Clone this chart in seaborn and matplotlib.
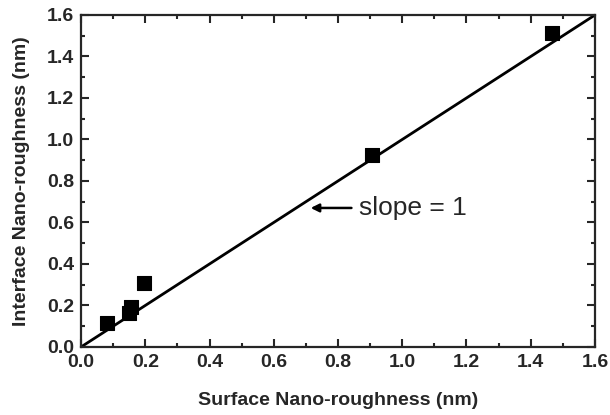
import numpy as np
import pandas as pd
import matplotlib
matplotlib.use("Agg")
import matplotlib.pyplot as plt
import seaborn as sns
from matplotlib.ticker import MultipleLocator

# measured roughness values (nm)
surface = [0.08, 0.15, 0.155, 0.195, 0.905, 1.465]
interface = [0.115, 0.165, 0.195, 0.31, 0.925, 1.515]

# slope = 1 reference line
ref_x = [0.0, 1.6]
ref_y = [0.0, 1.6]

df = pd.DataFrame({"surface": surface, "interface": interface})
ref = pd.DataFrame({"x": ref_x, "y": ref_y})

sns.set_style("ticks")
plt.rcParams["font.family"] = ["Liberation Sans", "DejaVu Sans"]

fig = plt.figure(figsize=(6.1, 4.15), dpi=100)
ax = fig.add_axes([0.1328, 0.1639, 0.8426, 0.80])

sns.lineplot(data=ref, x="x", y="y", color="black", linewidth=2, ax=ax)
sns.scatterplot(data=df, x="surface", y="interface", marker="s", s=95,
                color="black", edgecolor="black", ax=ax, zorder=3)

ax.annotate("slope = 1", xy=(0.715, 0.67), xytext=(0.865, 0.67),
            fontsize=19, va="center", ha="left",
            arrowprops=dict(arrowstyle="-|>", color="black", lw=1.8,
                            mutation_scale=12, shrinkA=3, shrinkB=0))

ax.set_xlim(0, 1.6)
ax.set_ylim(0, 1.6)
ax.xaxis.set_major_locator(MultipleLocator(0.2))
ax.yaxis.set_major_locator(MultipleLocator(0.2))
ax.xaxis.set_minor_locator(MultipleLocator(0.1))
ax.yaxis.set_minor_locator(MultipleLocator(0.1))
ax.xaxis.set_major_formatter(matplotlib.ticker.FormatStrFormatter("%.1f"))
ax.yaxis.set_major_formatter(matplotlib.ticker.FormatStrFormatter("%.1f"))

ax.tick_params(which="both", direction="in", top=True, right=True, width=1.5)
ax.tick_params(which="major", length=6, labelsize=14, pad=5)
ax.tick_params(which="minor", length=3)
for lbl in ax.get_xticklabels() + ax.get_yticklabels():
    lbl.set_fontweight("bold")
for s in ax.spines.values():
    s.set_visible(True)
    s.set_linewidth(1.6)

ax.set_xlabel("Surface Nano-roughness (nm)", fontsize=14, fontweight="bold", labelpad=15)
ax.set_ylabel("Interface Nano-roughness (nm)", fontsize=14, fontweight="bold", labelpad=12)

fig.savefig("out.png", dpi=100)
